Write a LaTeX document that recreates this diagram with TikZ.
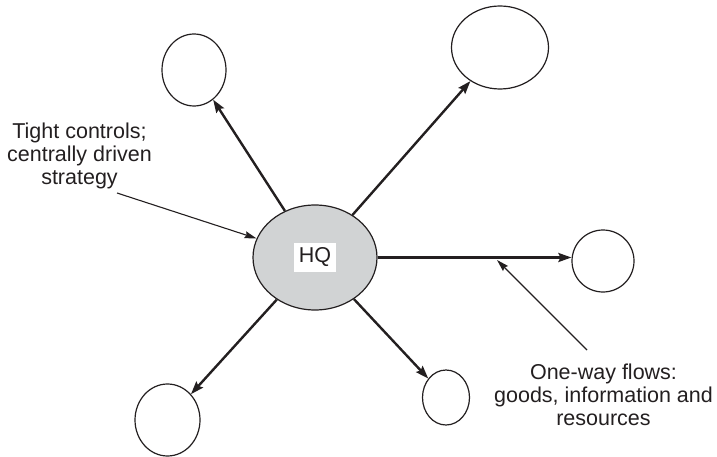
\documentclass[tikz,border=0pt]{standalone}
\usepackage{fontspec}
\setmainfont{Liberation Sans}
\usetikzlibrary{shapes.geometric,arrows.meta}
\definecolor{ink}{HTML}{231F20}
\definecolor{hqfill}{HTML}{D1D3D4}
\begin{document}
\begin{tikzpicture}[x=1pt,y=-1pt,
  unit/.style={ellipse, draw=ink, line width=1.2pt, inner sep=0pt, fill=white},
  flow/.style={draw=ink, line width=2.4pt, -{Stealth[length=13pt,width=9pt,inset=2pt]}},
  pointer/.style={draw=ink, line width=1.1pt, -{Stealth[length=12pt,width=7pt,inset=1.5pt]}},
  note/.style={align=center, font=\fontsize{21.5}{23}\selectfont, text=ink, inner sep=0pt}]
\useasboundingbox (0,0) rectangle (717,457);

% headquarters and its label
\node[unit, fill=hqfill, minimum width=124pt, minimum height=105pt] (hq) at (315,257.5) {};
\node[fill=white, minimum width=42pt, minimum height=29pt, inner sep=0pt,
      font=\fontsize{21.5}{23}\selectfont, text=ink] (hqlabel) at (315,257.5) {HQ};

% subsidiary units
\node[unit, minimum width=64pt, minimum height=72pt] (tl) at (194,70) {};
\node[unit, minimum width=97pt, minimum height=83pt] (tr) at (500,47.5) {};
\node[unit, minimum width=62pt, minimum height=62pt] (rt) at (603,261) {};
\node[unit, minimum width=47pt, minimum height=55pt] (br) at (446,397.5) {};
\node[unit, minimum width=65pt, minimum height=72pt] (bl) at (167.5,420) {};

% one-way flows out of HQ
\draw[flow] (hq) -- (tl);
\draw[flow] (hq) -- (tr);
\draw[flow] (hq.east) -- (hq.east -| rt.west);
\draw[flow] (hq) -- (br);
\draw[flow] (hq) -- (bl);

% annotations
\node[note] (tight) at (79.5,156) {Tight controls;\\centrally driven\\strategy};
\node[note] (oneway) at (603.5,394.5) {One-way flows:\\goods, information and\\resources};

\coordinate (tightfrom) at (117,193);
\draw[pointer] (tightfrom) -- (hq);
\coordinate (flowfrom) at (587,350);
\coordinate (flowto) at (497,260);
\draw[pointer] (flowfrom) -- (flowto);
\end{tikzpicture}
\end{document}
